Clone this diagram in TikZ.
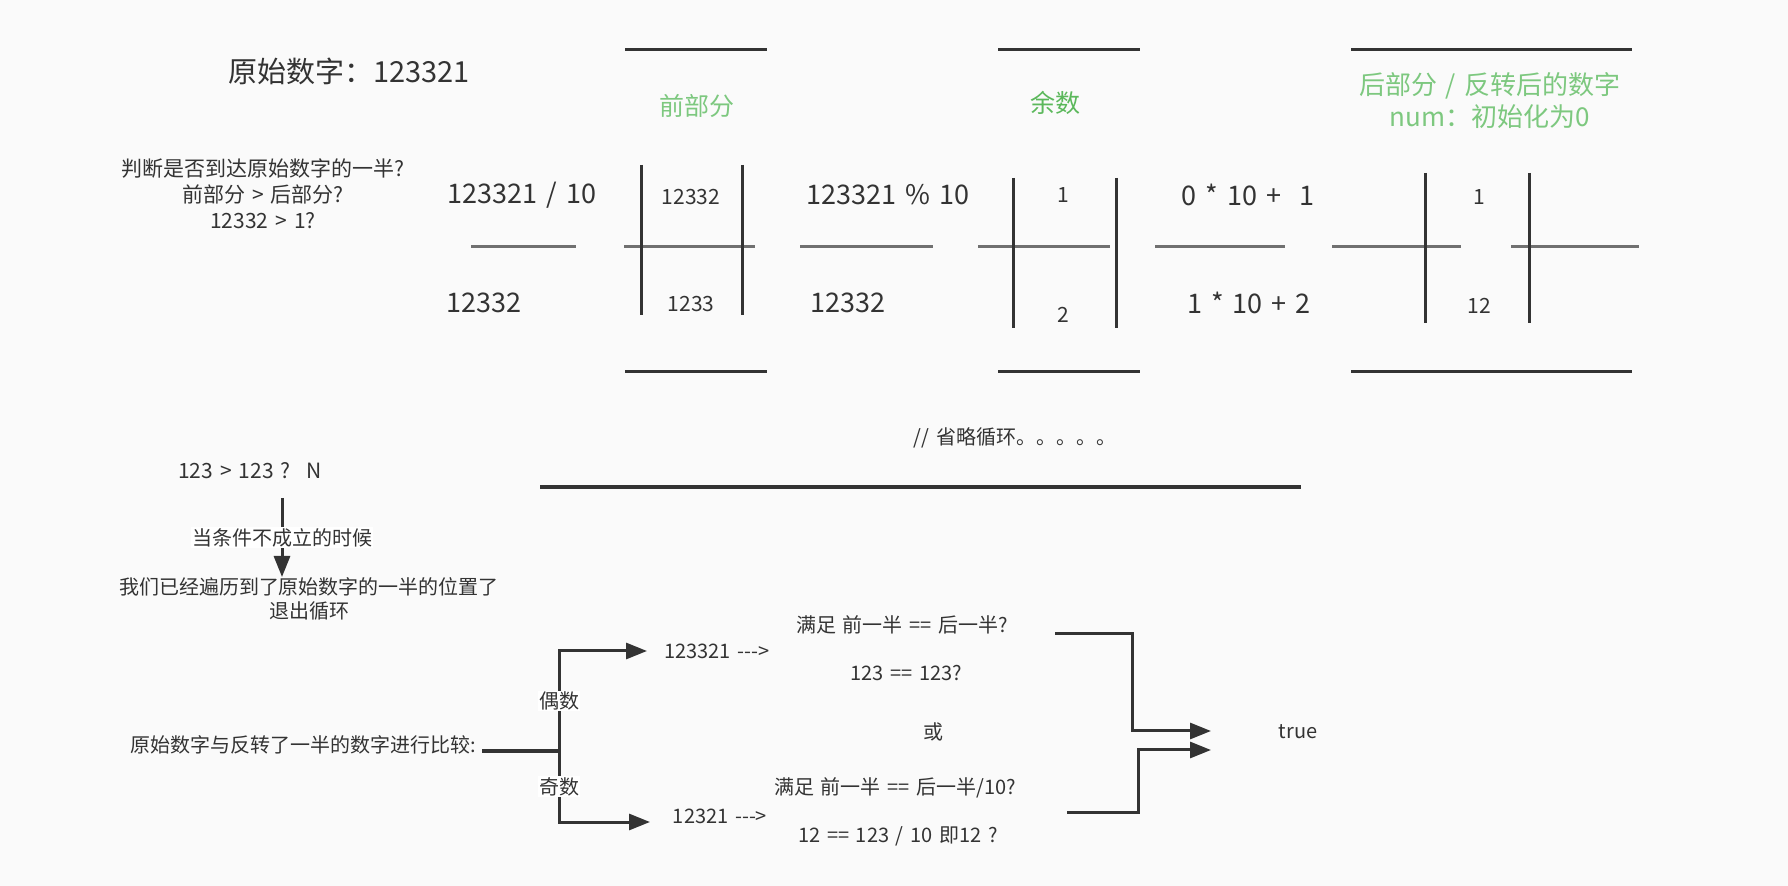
\documentclass[tikz,border=0pt]{standalone}
\usepackage{fontspec}
\setmainfont{Noto Sans CJK SC}[Ligatures=TeXOff, WordSpace=1.5]
\usetikzlibrary{arrows.meta}
\definecolor{ink}{HTML}{333333}
\definecolor{paper}{HTML}{FAFAFA}
\definecolor{leaf}{HTML}{7DC87F}
\definecolor{moss}{HTML}{5BB85B}
\definecolor{rulegray}{HTML}{707070}
\tikzset{
  txt/.style={text=ink, inner sep=1pt, align=center, font=\fontsize{10}{12}\selectfont},
  mid/.style={txt, font=\fontsize{10.5}{13}\selectfont},
  big/.style={txt, font=\fontsize{13.5}{16}\selectfont},
  head/.style={inner sep=1pt, align=center, font=\fontsize{12.5}{16}\selectfont},
  tag/.style={txt, fill=white, inner sep=0.5pt},
  bar/.style={ink, line width=1.5pt},
  rule/.style={rulegray, line width=1.5pt},
  arr/.style={ink, line width=1.5pt, -{Triangle[length=10.5pt,width=8pt]}},
}

\begin{document}
\begin{tikzpicture}[x=0.5pt, y=-0.5pt]
  \fill[paper] (0,0) rectangle (1788,886);
  \useasboundingbox (0,0) rectangle (1788,886);

  \node[txt, font=\fontsize{14.5}{17}\selectfont] (title) at (349,71) {原始数字：123321};
  \node[mid, font=\fontsize{10.5}{13}\selectfont] (judge) at (263,194)
    {判断是否到达原始数字的一半?\\前部分 > 后部分?\\12332 > 1?};

  \foreach \l/\r in {625/767, 998/1140, 1351/1632} {
    \draw[bar] (\l,50) -- (\r,50);
    \draw[bar] (\l,372) -- (\r,372);
  }
  \foreach \l/\r in {471/576, 624/755, 800/933, 978/1110, 1155/1285, 1332/1461, 1511/1639}
    \draw[rule] (\l,247) -- (\r,247);
  \foreach \x/\t/\b in {641/165/315, 742/165/315, 1013/178/328, 1116/178/328, 1425/173/323, 1529/173/323}
    \draw[bar] (\x,\t) -- (\x,\b);

  \node[head, text=leaf] (front) at (697,106) {前部分};
  \node[head, text=moss] (rest) at (1055,103) {余数};
  \node[head, text=leaf, font=\fontsize{13}{16}\selectfont] (back) at (1490,101)
    {后部分 / 反转后的数字\\num：初始化为0};

  \node[big] (div) at (522,195) {123321 / 10};
  \node[big] (divres) at (484,303) {12332};
  \node[mid] (front1) at (691,197) {12332};
  \node[mid] (front2) at (691,304) {1233};
  \node[big] (mod) at (888,195) {123321 \% 10};
  \node[big] (modres) at (848,303) {12332};
  \node[mid] (rest1) at (1063,195) {1};
  \node[mid] (rest2) at (1063,315) {2};
  \node[big] (acc1) at (1248,195) {0 * 10 +~ 1};
  \node[big] (acc2) at (1249,303) {1 * 10 + 2};
  \node[mid] (back1) at (1479,197) {1};
  \node[mid] (back2) at (1479,306) {12};

  \node[txt] (skip) at (1015,438) {// 省略循环。。。。。};
  \draw[ink, line width=1.6pt] (540,487) -- (1301,487);

  \node[mid] (cmp) at (250,471) {123 > 123 ?~ N};
  \node[txt, font=\fontsize{10}{12}\selectfont] (exit) at (309,599)
    {我们已经遍历到了原始数字的一半的位置了\\退出循环};
  \coordinate (stop) at (282,498);
  \coordinate (stopend) at (282,577);
  \draw[arr] (stop) -- node[tag] {当条件不成立的时候} (stopend);

  \node[txt] (whole) at (303,745) {原始数字与反转了一半的数字进行比较:};
  \coordinate (fork) at (559,751);
  \draw[ink, line width=2pt] (whole.east) ++(4,6) -- (fork);
  \node[txt] (even) at (717,651) {123321 --->};
  \node[txt] (odd) at (720,816) {12321 --->};
  \coordinate (evenin) at (647,651);
  \coordinate (oddin) at (650,822);
  \draw[arr] (fork) |- node[tag, pos=0.25] {偶数} (evenin);
  \draw[arr] (fork) |- node[tag, pos=0.25] {奇数} (oddin);

  \node[txt] (evencheck) at (902,625) {满足 前一半 == 后一半?};
  \node[txt] (evensample) at (906,673) {123 == 123?};
  \node[txt] (either) at (933,732) {或};
  \node[txt] (oddcheck) at (895,788) {满足 前一半 == 后一半/10?};
  \node[txt] (oddsample) at (898,836) {12 == 123 / 10 即12 ?};

  \node[txt] (result) at (1298,732) {true};
  \coordinate (evenout) at (1055,634);
  \coordinate (oddout) at (1067,812);
  \coordinate (truein) at (1211,731);
  \coordinate (truein2) at (1211,750);
  \draw[arr] (evenout) -- ++(77,0) |- (truein);
  \draw[arr] (oddout) -- ++(71,0) |- (truein2);
\end{tikzpicture}
\end{document}
